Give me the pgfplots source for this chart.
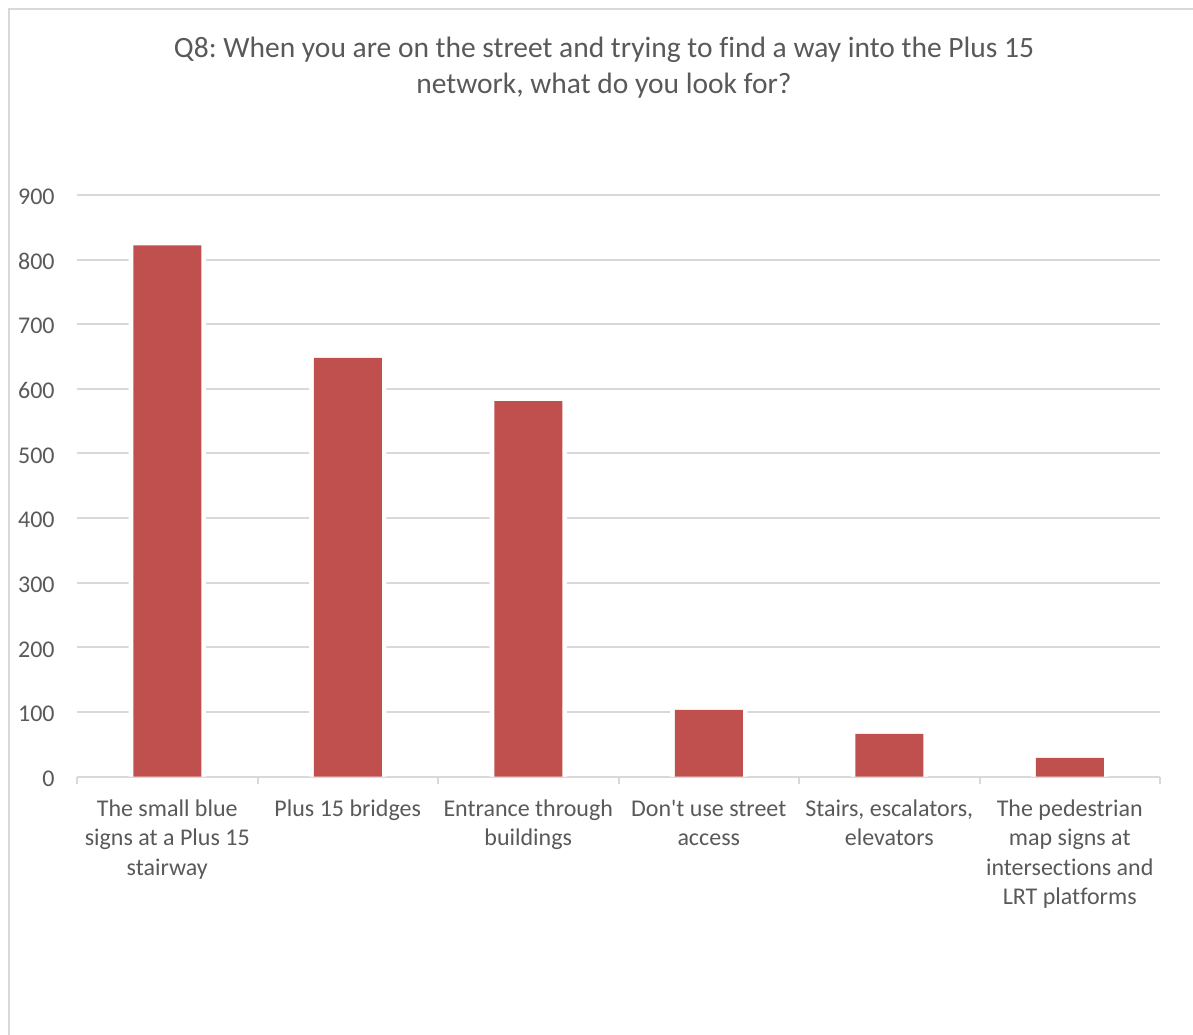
\documentclass[border=0pt]{standalone}
\usepackage{fontspec}
\setmainfont{Carlito}[Ligatures={NoCommon}]
\usepackage{pgfplots}
\pgfplotsset{compat=1.18}
\definecolor{txt}{HTML}{595959}
\definecolor{barred}{HTML}{C0504D}
\definecolor{gridc}{HTML}{D9D9D9}
\begin{document}
\frenchspacing
\begin{tikzpicture}
\path[use as bounding box] (0,0) rectangle (596.5pt,-517pt);
\draw[gridc, line width=1pt] (4.25pt,-520pt) -- (4.25pt,-4.5pt) -- (600pt,-4.5pt);
\node[align=center, text=txt, font=\fontsize{14.75}{18.3}\selectfont] at (302pt,-33.8pt)
  {Q8: When you are on the street and trying to find a way into the Plus 15\\network, what do you look for?};
\begin{axis}[
  at={(38.5pt,-388.25pt)}, anchor=south west,
  width=541.5pt, height=290.75pt, scale only axis,
  xmin=-0.5, xmax=5.5, ymin=0, ymax=900,
  ytick={0,100,...,900},
  xtick={0,1,2,3,4,5},
  xticklabels={
    {The small blue\\signs at a Plus 15\\stairway},
    {Plus 15 bridges},
    {Entrance through\\buildings},
    {Don\textquotesingle t use street\\access},
    {Stairs, escalators,\\elevators},
    {The pedestrian\\map signs at\\intersections and\\LRT platforms}},
  minor xtick={-0.5,0.5,...,5.5},
  major tick length=0pt, minor tick length=3.5pt,
  tick align=outside,
  minor tick style={gridc, line width=1pt},
  ymajorgrids, major grid style={gridc, line width=1pt},
  axis x line*=bottom, axis y line*=left,
  x axis line style={gridc, line width=1pt, -},
  y axis line style={draw=none},
  ytick style={draw=none},
  /pgf/number format/assume math mode=true,
  tick label style={text=txt, font=\fontsize{12}{14.65}\selectfont},
  yticklabel style={anchor=east, inner sep=0pt, xshift=-11pt, yshift=-1pt},
  xticklabel style={anchor=north, inner sep=0pt, yshift=-11.5pt, align=center},
  ybar, bar shift=0pt,
  clip=false,
]
\addplot[fill=white, draw=none, bar width=38.6pt] coordinates {(0,822) (1,648) (2,581) (3,103) (4,66) (5,29)};
\addplot[fill=barred, draw=none, bar width=34pt] coordinates {(0,822) (1,648) (2,581) (3,103) (4,66) (5,29)};
\end{axis}
\end{tikzpicture}
\end{document}
